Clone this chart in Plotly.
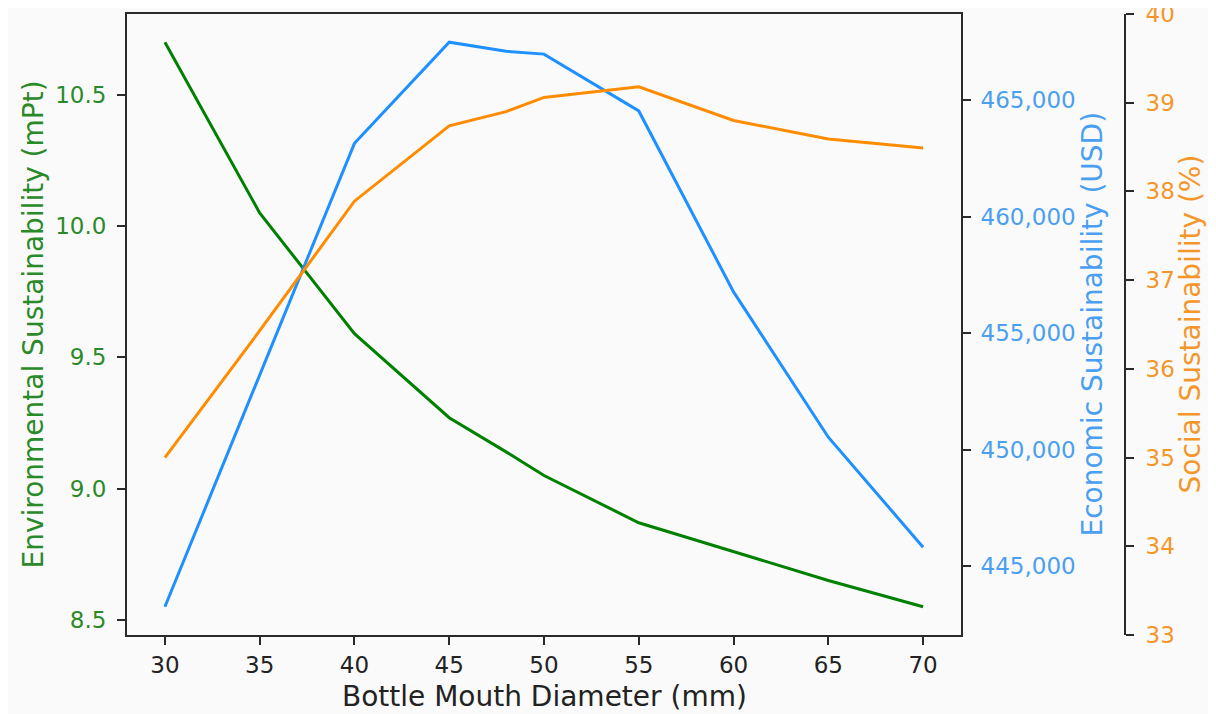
import plotly.graph_objects as go

# ---- data ----
diameter_mm = [30, 35, 40, 45, 48, 50, 55, 60, 65, 70]
environmental_mpt = [10.70, 10.05, 9.59, 9.27, 9.14, 9.05, 8.87, 8.76, 8.65, 8.55]
economic_usd = [443250, 453200, 463150, 467490, 467100, 466980, 464540, 456770, 450530, 445810]
social_pct = [35.00, 36.43, 37.89, 38.74, 38.90, 39.06, 39.18, 38.80, 38.59, 38.49]

x_ticks = [30, 35, 40, 45, 50, 55, 60, 65, 70]
env_ticks = [8.5, 9.0, 9.5, 10.0, 10.5]
eco_ticks = [445000, 450000, 455000, 460000, 465000]
soc_ticks = [33, 34, 35, 36, 37, 38, 39, 40]

GREEN_LINE = "#008000"
GREEN_TXT = "#2a8a2a"
BLUE_LINE = "#1E90FF"
BLUE_TXT = "#4a9ff0"
ORANGE_LINE = "#FF8C00"
ORANGE_TXT = "#f5962a"
SPINE = "#2a2a2a"
BG = "#fafafa"
FONT = "DejaVu Sans"

W, H = 1216, 714
OFF = 8  # page body margin offset
x0, x1 = 127 - OFF, 961 - OFF
ytop, ybot = 14 - OFF, 635 - OFF
x3 = 1125 - OFF

def fx(px):
    return px / W

def fy(py):
    return 1 - py / H

fig = go.Figure()
fig.add_trace(go.Scatter(x=diameter_mm, y=environmental_mpt, mode="lines",
                         line=dict(color=GREEN_LINE, width=3), yaxis="y", showlegend=False))
fig.add_trace(go.Scatter(x=diameter_mm, y=economic_usd, mode="lines",
                         line=dict(color=BLUE_LINE, width=3), yaxis="y2", showlegend=False))
fig.add_trace(go.Scatter(x=diameter_mm, y=social_pct, mode="lines",
                         line=dict(color=ORANGE_LINE, width=3), yaxis="y3", showlegend=False))

env_min, env_max = min(environmental_mpt), max(environmental_mpt)
env_pad = (env_max - env_min) * 0.05
eco_min, eco_max = min(economic_usd), max(economic_usd)
eco_pad = (eco_max - eco_min) * 0.05

common_tick = dict(ticks="outside", ticklen=8, tickwidth=1.6, showgrid=False, zeroline=False,
                   showline=True, linewidth=2, linecolor=SPINE, automargin=False,
                   ticklabeloverflow="allow")
TICK = 23

fig.update_layout(
    width=W, height=H,
    margin=dict(l=0, r=0, t=0, b=0, autoexpand=False),
    paper_bgcolor=BG, plot_bgcolor=BG,
    font=dict(family=FONT, size=TICK, color="#222222"),
    xaxis=dict(domain=[fx(x0), fx(x1)], range=[28, 72], tickvals=x_ticks,
               ticktext=[str(v) for v in x_ticks], mirror=True, tickcolor=SPINE,
               tickfont=dict(color="#222222", size=TICK), ticklabelstandoff=0, **common_tick),
    yaxis=dict(domain=[fy(ybot), fy(ytop)], range=[env_min - env_pad, env_max + env_pad],
               tickvals=env_ticks, ticktext=[f"{v:.1f}" for v in env_ticks], tickcolor=SPINE,
               tickfont=dict(color=GREEN_TXT, size=TICK), ticklabelstandoff=6, **common_tick),
    yaxis2=dict(overlaying="y", side="right", anchor="x",
                range=[eco_min - eco_pad, eco_max + eco_pad],
                tickvals=eco_ticks, ticktext=[f"{v:,}" for v in eco_ticks], tickcolor=SPINE,
                tickfont=dict(color=BLUE_TXT, size=TICK), ticklabelstandoff=5, **common_tick),
    yaxis3=dict(overlaying="y", side="right", anchor="free", position=fx(x3),
                range=[33, 40.0001], tickvals=soc_ticks, ticktext=[str(v) for v in soc_ticks],
                tickcolor=SPINE, tickfont=dict(color=ORANGE_TXT, size=TICK),
                ticklabelstandoff=7, **common_tick),
)

title_font = dict(family=FONT, size=28)
fig.add_annotation(text="Bottle Mouth Diameter (mm)", xref="paper", yref="paper",
                   x=fx((x0 + x1) / 2), y=fy(696 - OFF), showarrow=False,
                   xanchor="center", yanchor="middle", font=dict(color="#222222", **title_font))
fig.add_annotation(text="Environmental Sustainability (mPt)", xref="paper", yref="paper",
                   x=fx(33 - OFF), y=fy((ytop + ybot) / 2), showarrow=False, textangle=-90,
                   xanchor="center", yanchor="middle", font=dict(color=GREEN_TXT, **title_font))
fig.add_annotation(text="Economic Sustainability (USD)", xref="paper", yref="paper",
                   x=fx(1092 - OFF), y=fy((ytop + ybot) / 2), showarrow=False, textangle=-90,
                   xanchor="center", yanchor="middle", font=dict(color=BLUE_TXT, **title_font))
fig.add_annotation(text="Social Sustainability (%)", xref="paper", yref="paper",
                   x=fx(1190 - OFF), y=fy((ytop + ybot) / 2), showarrow=False, textangle=-90,
                   xanchor="center", yanchor="middle", font=dict(color=ORANGE_TXT, **title_font))

fig.write_html("out.html")
